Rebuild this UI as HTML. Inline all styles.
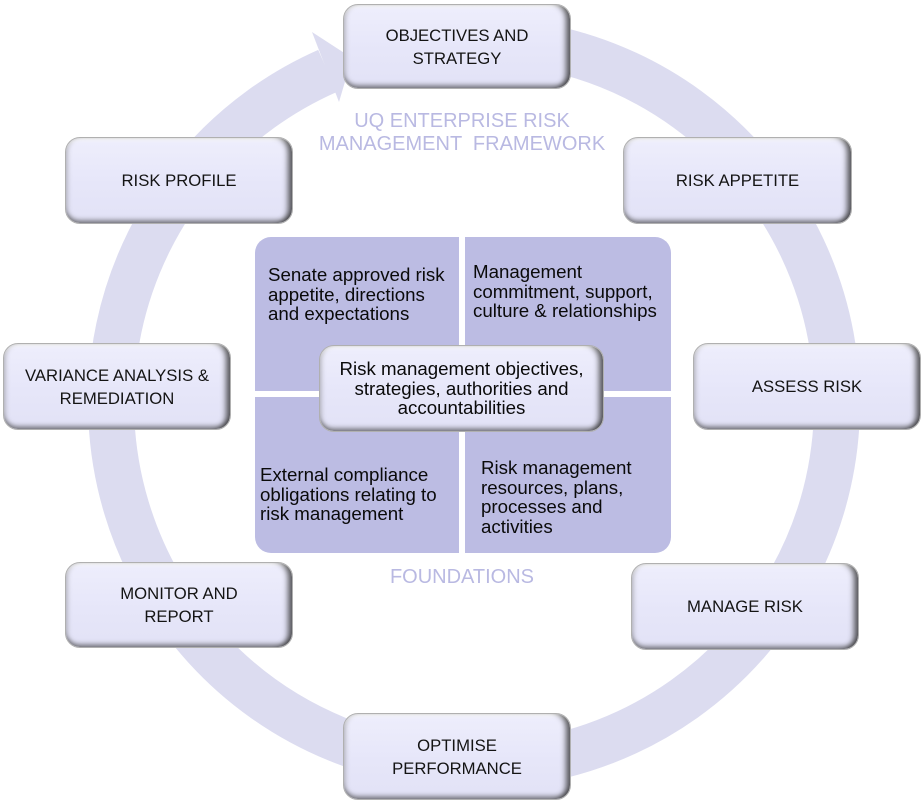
<!DOCTYPE html>
<html>
<head>
<meta charset="utf-8">
<style>
  html, body { margin:0; padding:0; background:#ffffff; }
  body { width:924px; height:804px; position:relative; overflow:hidden; font-family:"Liberation Sans", Arial, sans-serif; }
  svg.ring { position:absolute; left:0; top:0; }
  .b {
    position:absolute; box-sizing:border-box;
    border-radius:15px;
    background:linear-gradient(180deg,#eeeefc 0%,#e6e6f9 55%,#e2e2f6 100%);
    border:1px solid #b0b0b0;
    box-shadow:
      inset -7px 0 6px -3px rgba(40,40,40,0.75),
      inset 0 -6px 5px -3px rgba(60,60,60,0.55),
      inset 4px 0 4px -2px rgba(110,110,110,0.35),
      inset 0 4px 3px -2px #ffffff;
    display:flex; align-items:center; justify-content:center; text-align:center;
    font-size:16.7px; line-height:23px; color:#141414;
  }
  .q { position:absolute; background:#bcbce3; }
  .qt { position:absolute; font-size:18.7px; line-height:19.5px; color:#0a0a0a; white-space:nowrap; }
  .title { position:absolute; color:#b9b9e2; font-size:20px; line-height:23px; text-align:center; white-space:pre; }
</style>
</head>
<body>

<svg class="ring" width="924" height="804" viewBox="0 0 924 804">
  <path d="M 540.8 46.2 A 363 363 0 1 1 327.5 70.9" fill="none" stroke="#dcdcf0" stroke-width="46"/>
  <polygon points="312,32 352,58 339,102" fill="#dcdcf0"/>
</svg>

<!-- title -->
<div class="title" style="left:262px; top:110px; width:400px;">UQ ENTERPRISE RISK
MANAGEMENT  FRAMEWORK</div>

<!-- foundations quadrants -->
<div class="q" style="left:255px; top:237px; width:204px; height:154px; border-top-left-radius:16px;"></div>
<div class="q" style="left:465px; top:237px; width:206px; height:154px; border-top-right-radius:16px;"></div>
<div class="q" style="left:255px; top:397px; width:204px; height:156px; border-bottom-left-radius:16px;"></div>
<div class="q" style="left:465px; top:397px; width:206px; height:156px; border-bottom-right-radius:16px;"></div>

<div class="qt" style="left:268px; top:265px;">Senate approved risk<br>appetite, directions<br>and expectations</div>
<div class="qt" style="left:473px; top:262px;">Management<br>commitment, support,<br>culture &amp; relationships</div>
<div class="qt" style="left:260px; top:465px;">External compliance<br>obligations relating to<br>risk management</div>
<div class="qt" style="left:481px; top:458px;">Risk management<br>resources, plans,<br>processes and<br>activities</div>

<!-- center box -->
<div class="b" style="left:319px; top:345px; width:285px; height:87px; font-size:18.7px; line-height:19.5px; color:#0a0a0a;">Risk management objectives,<br>strategies, authorities and<br>accountabilities</div>

<div class="title" style="left:312px; top:566px; width:300px;">FOUNDATIONS</div>

<!-- cycle boxes -->
<div class="b" style="left:343px; top:4px; width:228px; height:85px;">OBJECTIVES AND<br>STRATEGY</div>
<div class="b" style="left:623px; top:137px; width:229px; height:87px;">RISK APPETITE</div>
<div class="b" style="left:693px; top:343px; width:228px; height:87px;">ASSESS RISK</div>
<div class="b" style="left:631px; top:563px; width:228px; height:87px;">MANAGE RISK</div>
<div class="b" style="left:343px; top:713px; width:228px; height:87px;">OPTIMISE<br>PERFORMANCE</div>
<div class="b" style="left:65px; top:562px; width:228px; height:86px;">MONITOR AND<br>REPORT</div>
<div class="b" style="left:3px; top:343px; width:228px; height:87px;">VARIANCE ANALYSIS &amp;<br>REMEDIATION</div>
<div class="b" style="left:65px; top:137px; width:228px; height:87px;">RISK PROFILE</div>

</body>
</html>
